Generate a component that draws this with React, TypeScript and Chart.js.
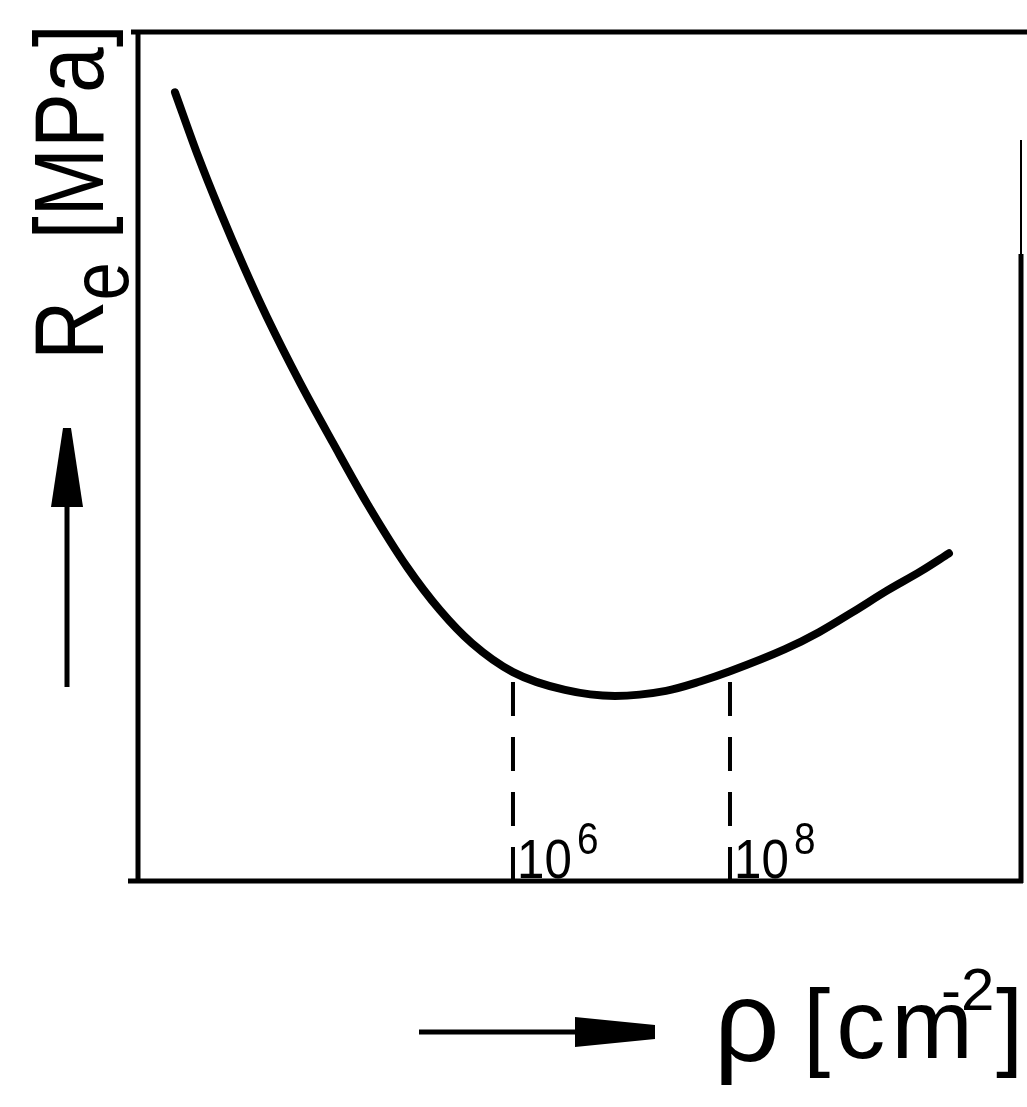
import React, { useEffect, useRef } from 'react';
import { Chart, registerables } from 'chart.js';

Chart.register(...registerables);

// log10 of dislocation density rho [cm^-2]
const rhoExp = [2.885, 3.097, 3.3, 3.521, 3.733, 4.037, 4.341, 4.654, 5.023, 5.327, 5.622, 6.0, 6.479, 6.94, 7.41, 7.724, 8.0, 8.507, 8.82, 9.134, 9.447, 9.76, 10.018];
// yield stress Re (relative units, 0..100 of the frame height)
const yieldStress = [92.9, 85.4, 78.9, 72.3, 66.4, 58.7, 51.6, 44.5, 37.0, 31.9, 28.0, 24.6, 22.5, 21.8, 22.4, 23.5, 24.7, 27.3, 29.3, 31.7, 34.2, 36.5, 38.6];

// dashed markers at rho = 10^6 and 10^8
const markerExp = [6, 8];
const markerTop = [24.6, 24.7];
const markerBase = ['10', '10'];
const markerPow = ['6', '8'];

const xRange = [2.544, 10.682];
const yRange = [0, 100];

const FONT = '"Liberation Sans", Arial, sans-serif';

const decorPlugin = {
  id: 'decor',
  afterDatasetsDraw(chart: any) {
    const { ctx, chartArea: a } = chart;
    const xs = chart.scales.x;
    ctx.save();
    ctx.strokeStyle = '#000';
    ctx.fillStyle = '#000';
    ctx.lineCap = 'butt';

    // frame
    ctx.lineWidth = 5;
    ctx.beginPath();
    ctx.moveTo(a.left - 7, a.top);
    ctx.lineTo(chart.width, a.top);
    ctx.stroke();
    ctx.beginPath();
    ctx.moveTo(a.left, a.top - 2);
    ctx.lineTo(a.left, a.bottom + 2);
    ctx.stroke();
    ctx.beginPath();
    ctx.moveTo(a.left - 10, a.bottom);
    ctx.lineTo(a.right + 2, a.bottom);
    ctx.stroke();
    ctx.lineWidth = 2;
    ctx.beginPath();
    ctx.moveTo(a.right, a.top + 108);
    ctx.lineTo(a.right, a.top + 222);
    ctx.stroke();
    ctx.lineWidth = 5;
    ctx.beginPath();
    ctx.moveTo(a.right, a.top + 222);
    ctx.lineTo(a.right, a.bottom + 2);
    ctx.stroke();

    // marker labels 10^6, 10^8
    ctx.textAlign = 'left';
    ctx.textBaseline = 'alphabetic';
    markerExp.forEach((v, i) => {
      const px = xs.getPixelForValue(v);
      ctx.save();
      ctx.translate(px + 4, a.bottom - 3);
      ctx.scale(0.88, 1);
      ctx.font = `56px ${FONT}`;
      ctx.fillText(markerBase[i], 0, 0);
      const w = ctx.measureText(markerBase[i]).width;
      ctx.font = `44px ${FONT}`;
      ctx.fillText(markerPow[i], w + 6, -24);
      ctx.restore();
    });

    // y title: R_e [MPa], rotated
    ctx.save();
    ctx.translate(a.left - 35, a.top + 328);
    ctx.rotate(-Math.PI / 2);
    ctx.scale(0.84, 1);
    ctx.font = `98px ${FONT}`;
    ctx.fillText('R', 0, 0);
    let w = ctx.measureText('R').width;
    ctx.font = `82px ${FONT}`;
    ctx.fillText('e', w, 25);
    w += ctx.measureText('e').width;
    ctx.font = `98px ${FONT}`;
    ctx.fillText(' [MPa]', w, 0);
    ctx.restore();

    // y arrow
    const ax = a.left - 71;
    ctx.lineWidth = 5;
    ctx.beginPath();
    ctx.moveTo(ax, a.top + 655);
    ctx.lineTo(ax, a.top + 470);
    ctx.stroke();
    ctx.beginPath();
    ctx.moveTo(ax - 16, a.top + 475);
    ctx.lineTo(ax + 16, a.top + 475);
    ctx.lineTo(ax + 4, a.top + 396);
    ctx.lineTo(ax - 4, a.top + 396);
    ctx.closePath();
    ctx.fill();

    // x arrow
    const ay = a.bottom + 151;
    ctx.beginPath();
    ctx.moveTo(a.left + 281, ay);
    ctx.lineTo(a.left + 445, ay);
    ctx.stroke();
    ctx.beginPath();
    ctx.moveTo(a.left + 437, ay - 15);
    ctx.lineTo(a.left + 437, ay + 15);
    ctx.lineTo(a.left + 517, ay + 7);
    ctx.lineTo(a.left + 517, ay - 7);
    ctx.closePath();
    ctx.fill();

    // x title: rho [cm^-2]
    const by = a.bottom + 177;
    ctx.font = `115px ${FONT}`;
    ctx.fillText('ρ', a.left + 576, by + 3);
    ctx.font = `98px ${FONT}`;
    (ctx as any).letterSpacing = '6px';
    ctx.fillText('[cm', a.left + 665, by);
    (ctx as any).letterSpacing = '0px';
    ctx.font = `60px ${FONT}`;
    ctx.fillText('-2', a.left + 803, by - 48);
    ctx.font = `98px ${FONT}`;
    ctx.fillText(']', a.left + 858, by);

    ctx.restore();
  },
};

export default function App() {
  const ref = useRef<HTMLCanvasElement | null>(null);

  useEffect(() => {
    if (!ref.current) return;
    const curve = rhoExp.map((x, i) => ({ x, y: yieldStress[i] }));
    const markerSets = markerExp.map((x, i) => ({
      data: [
        { x, y: 0 },
        { x, y: markerTop[i] },
      ],
      borderColor: '#000',
      borderWidth: 4,
      borderDash: [34, 21],
      pointRadius: 0,
      tension: 0,
      fill: false,
    }));
    const chart = new Chart(ref.current, {
      type: 'line',
      data: {
        datasets: [
          {
            data: curve,
            borderColor: '#000',
            borderWidth: 8,
            pointRadius: 0,
            cubicInterpolationMode: 'monotone',
            fill: false,
            borderCapStyle: 'round',
            borderJoinStyle: 'round',
          },
          ...markerSets,
        ],
      } as any,
      options: {
        animation: false,
        responsive: false,
        devicePixelRatio: 1,
        layout: { padding: { left: 138, top: 32, right: 6, bottom: 226 } },
        plugins: { legend: { display: false }, tooltip: { enabled: false }, title: { display: false } },
        scales: {
          x: { type: 'linear', min: xRange[0], max: xRange[1], display: false },
          y: { type: 'linear', min: yRange[0], max: yRange[1], display: false },
        },
      } as any,
      plugins: [decorPlugin],
    });
    return () => chart.destroy();
  }, []);

  return (
    <div style={{ position: 'absolute', left: 0, top: 0, width: 1027, height: 1107, background: '#fff' }}>
      <canvas ref={ref} width={1027} height={1107} style={{ display: 'block' }} />
    </div>
  );
}
